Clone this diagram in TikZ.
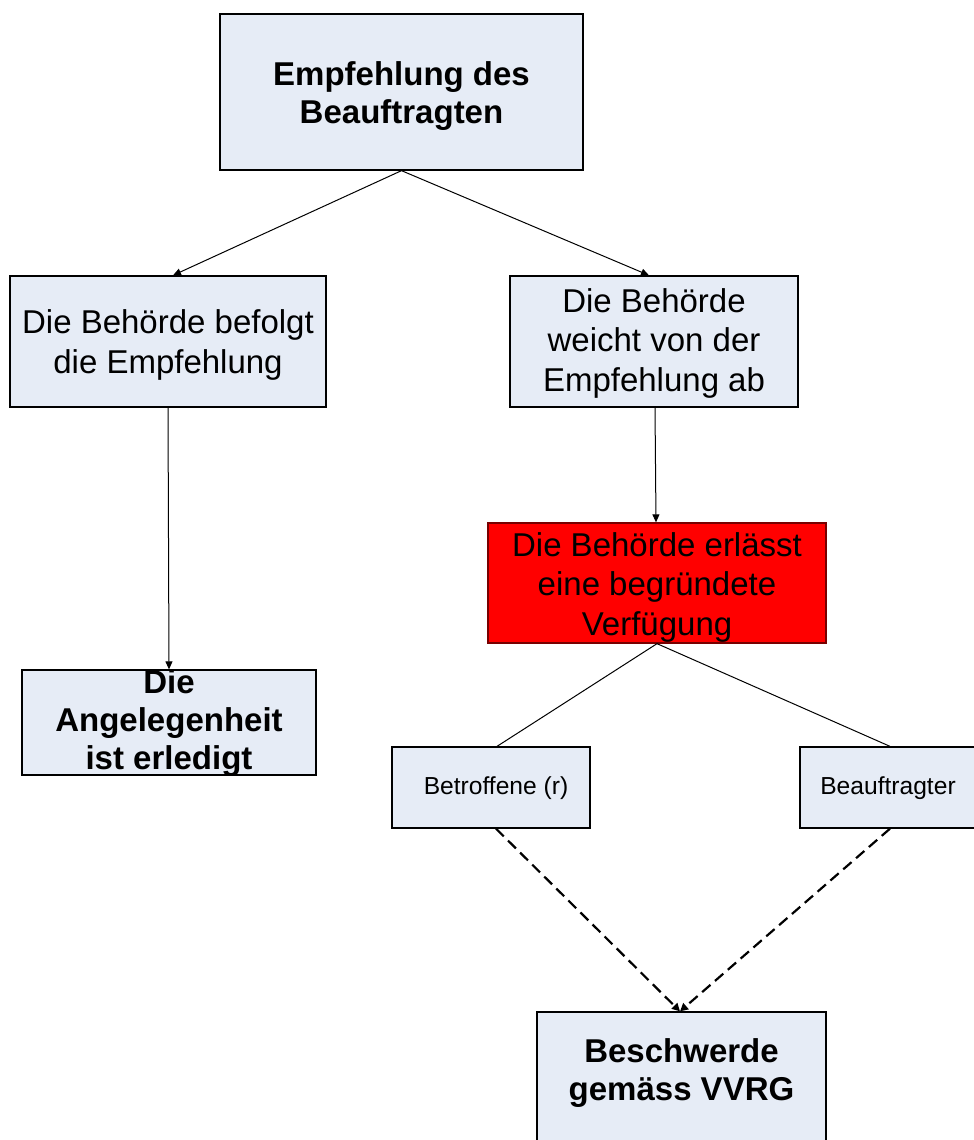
\documentclass[tikz,border=0pt]{standalone}
\usepackage{fontspec}
\setmainfont{Liberation Sans}
\usetikzlibrary{arrows.meta,calc}
\definecolor{boxfill}{RGB}{230,236,246}
\definecolor{redfill}{RGB}{255,0,0}
\definecolor{redline}{RGB}{120,0,0}
\begin{document}
\begin{tikzpicture}[x=1pt,y=-1pt,
  box/.style={draw=black,line width=1.3pt,fill=boxfill,rectangle,inner sep=0pt},
  redbox/.style={draw=redline,line width=1.3pt,fill=redfill,rectangle,inner sep=0pt},
  big/.style={font=\fontsize{33}{39.5}\selectfont,align=center,inner sep=0pt},
  bigbold/.style={font=\fontsize{33}{38}\selectfont\bfseries,align=center,inner sep=0pt},
  small/.style={font=\fontsize{24.6}{28}\selectfont,inner sep=0pt},
  conn/.style={line width=1pt,-{Triangle[length=8pt,width=7pt]}},
  plainline/.style={line width=1pt},
  dashconn/.style={line width=2.2pt,dash pattern=on 11pt off 6pt,-{Triangle[length=8pt,width=8pt]}}
]
\clip (0,0) rectangle (974,1140);
\fill[white] (0,0) rectangle (974,1140);

% boxes
\node[box,minimum width=363pt,minimum height=156pt] (top) at (401.5,92) {};
\node[box,minimum width=316pt,minimum height=131pt] (left) at (168,341.5) {};
\node[box,minimum width=288pt,minimum height=131pt] (right) at (654,341.5) {};
\node[redbox,minimum width=338pt,minimum height=120pt] (red) at (657,583) {};
\node[box,minimum width=294pt,minimum height=105pt] (ll) at (169,722.5) {};
\node[box,minimum width=198pt,minimum height=81pt] (betr) at (491,787.5) {};
\node[box,minimum width=176pt,minimum height=81pt] (beauf) at (888,787.5) {};
\node[box,minimum width=289pt,minimum height=138pt] (bottom) at (681.5,1081) {};

% texts
\node[bigbold] (ttop) at (401.5,96) {Empfehlung des\\Beauftragten};
\node[big] (tleft) at (168,345) {Die Behörde befolgt\\die Empfehlung};
\node[big] (tright) at (654,343) {Die Behörde\\weicht von der\\Empfehlung ab};
\node[big] (tred) at (657,587) {Die Behörde erlässt\\eine begründete\\Verfügung};
\node[bigbold] (tll) at (169,723) {Die\\Angelegenheit\\ist erledigt};
\node[small] (tbetr) at (496,788) {Betroffene (r)};
\node[small] (tbeauf) at (888,788) {Beauftragter};
\node[bigbold] (tbottom) at (681.5,1073) {Beschwerde\\gemäss VVRG};

% connectors
\draw[conn] (top.south) -- ([xshift=5pt]left.north);
\draw[conn] (top.south) -- ([xshift=-5pt]right.north);
\draw[conn] (left.south) -- (ll.north);
\draw[conn] ([xshift=1pt]right.south) -- ([xshift=-1pt]red.north);
\draw[plainline] (red.south) -- ([xshift=6pt]betr.north);
\draw[plainline] (red.south) -- ([xshift=2pt]beauf.north);
\draw[dashconn] ([xshift=5pt]betr.south) -- ([xshift=-1.5pt]bottom.north);
\draw[dashconn] ([xshift=2pt]beauf.south) -- ([xshift=-1.5pt]bottom.north);
\end{tikzpicture}
\end{document}
